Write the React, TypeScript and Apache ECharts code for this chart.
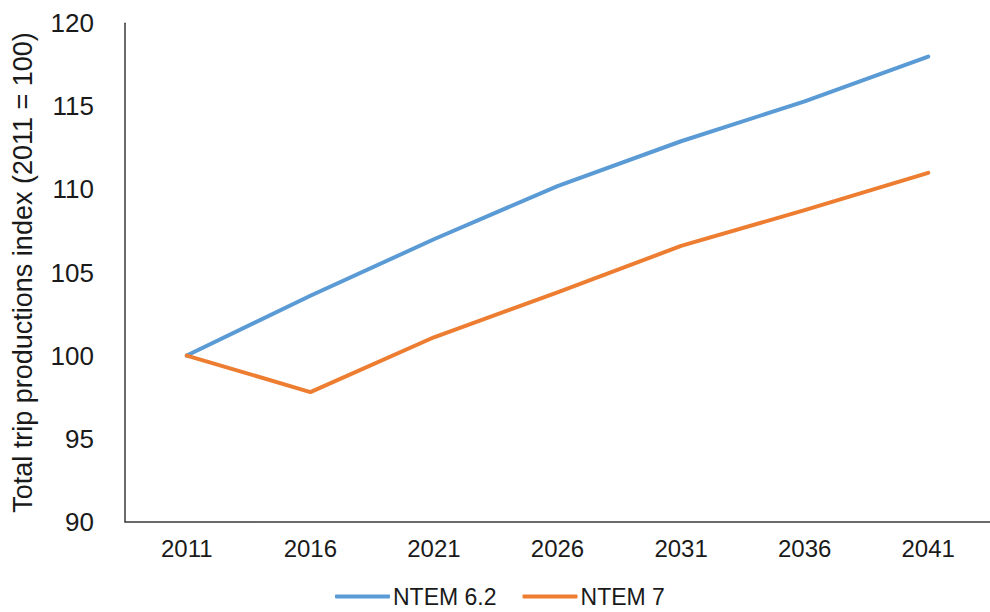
import React, { useEffect, useRef } from "react";
import * as echarts from "echarts";

// Forecast years on the horizontal axis
const years = ["2011", "2016", "2021", "2026", "2031", "2036", "2041"];

// Trip production index per dataset version (2011 = 100)
const ntem62 = [100, 103.6, 107.0, 110.2, 112.9, 115.3, 118.0];
const ntem7 = [100, 97.8, 101.1, 103.8, 106.6, 108.75, 111.0];

// Value axis range
const yMin = 90;
const yMax = 120;
const yStep = 5;

const seriesNames = ["NTEM 6.2", "NTEM 7"];
const seriesColors = ["#5B9BD5", "#ED7D31"];

const FONT = "'Liberation Sans', Arial, sans-serif";

export default function App() {
  const ref = useRef<HTMLDivElement>(null);

  useEffect(() => {
    document.body.style.margin = "0";
    if (!ref.current) return;
    const chart = echarts.init(ref.current, null, { renderer: "svg" });
    const axisColor = "#3a3a3a";
    chart.setOption({
      animation: false,
      backgroundColor: "#ffffff",
      textStyle: { fontFamily: FONT },
      grid: { left: 125, top: 23.3, width: 875, height: 498.4, containLabel: false },
      legend: {
        left: 335,
        top: 585,
        padding: 0,
        itemWidth: 55,
        itemHeight: 4,
        itemGap: 26,
        icon: "roundRect",
        textStyle: {
          fontFamily: FONT,
          fontSize: 23,
          lineHeight: 23,
          color: "#1a1a1a",
          padding: [0, 0, 0, -2],
        },
        data: seriesNames.map((n, i) => ({ name: n, itemStyle: { color: seriesColors[i] } })),
      },
      xAxis: {
        type: "category",
        data: years,
        boundaryGap: true,
        axisLine: { show: true, lineStyle: { color: axisColor, width: 1.5 } },
        axisTick: { show: false },
        axisLabel: { color: "#1a1a1a", fontSize: 24, fontFamily: FONT, margin: 15 },
        splitLine: { show: false },
      },
      yAxis: {
        type: "value",
        min: yMin,
        max: yMax,
        interval: yStep,
        name: "Total trip productions index (2011 = 100)",
        nameLocation: "middle",
        nameGap: 89,
        nameRotate: 90,
        nameTextStyle: { fontSize: 27, color: "#1a1a1a", fontFamily: FONT },
        axisLine: { show: true, lineStyle: { color: axisColor, width: 1.5 } },
        axisTick: { show: false },
        axisLabel: { color: "#1a1a1a", fontSize: 26, fontFamily: FONT, margin: 31 },
        splitLine: { show: false },
      },
      series: [
        {
          name: seriesNames[0],
          type: "line",
          data: ntem62,
          symbol: "none",
          lineStyle: { color: seriesColors[0], width: 4, cap: "round", join: "round" },
          itemStyle: { color: seriesColors[0] },
        },
        {
          name: seriesNames[1],
          type: "line",
          data: ntem7,
          symbol: "none",
          lineStyle: { color: seriesColors[1], width: 4, cap: "round", join: "round" },
          itemStyle: { color: seriesColors[1] },
        },
      ],
    });
    return () => chart.dispose();
  }, []);

  return <div ref={ref} style={{ width: 990, height: 612 }} />;
}
